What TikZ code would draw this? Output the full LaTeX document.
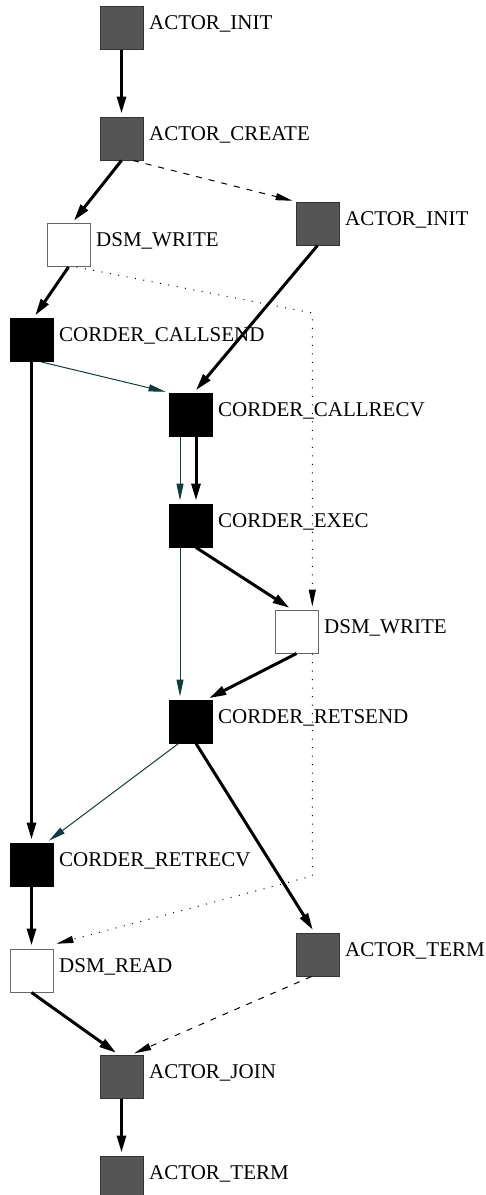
\documentclass[tikz,border=0pt]{standalone}
\usepackage{fontspec}
\setmainfont{Liberation Serif}
\usetikzlibrary{arrows.meta}
\definecolor{actgray}{HTML}{555555}
\definecolor{actborder}{HTML}{333333}
\definecolor{whiteborder}{HTML}{666666}
\definecolor{edgeteal}{HTML}{0F3C3C}
\begin{document}
\begin{tikzpicture}[x=1pt,y=-1pt,
  box/.style={draw, minimum size=43pt, inner sep=0pt, line width=1pt},
  graybox/.style={box, fill=actgray, draw=actborder},
  blackbox/.style={box, fill=black, draw=black},
  whitebox/.style={box, fill=white, draw=whiteborder},
  lbl/.style={anchor=base west, inner sep=0pt, xshift=5.5pt, yshift=-1.5pt,
    font=\fontsize{21}{25}\selectfont},
  thickedge/.style={line width=3pt, -{Triangle[length=17pt,width=9pt]}, shorten >=3pt},
  thinedge/.style={draw=edgeteal, line width=1pt, -{Triangle[length=17pt,width=7pt]}, shorten >=3pt},
  dashedge/.style={line width=1pt, dash pattern=on 6pt off 7pt, -{Triangle[length=17pt,width=7pt]}, shorten >=3pt},
  dotedge/.style={line width=1pt, dash pattern=on 1pt off 7.5pt, -{Triangle[length=17pt,width=7pt]}, shorten >=3pt}
]
\useasboundingbox (0,0) rectangle (486,1195);

% nodes
\node[graybox, label={[lbl]east:ACTOR\_INIT}] (init1) at (121.5,27.5) {};
\node[graybox, label={[lbl]east:ACTOR\_CREATE}] (create) at (121.5,138.5) {};
\node[whitebox, label={[lbl]east:DSM\_WRITE}] (dsmw1) at (68.5,245) {};
\node[graybox, label={[lbl]east:ACTOR\_INIT}] (init2) at (317.5,223.5) {};
\node[blackbox, label={[lbl]east:CORDER\_CALLSEND}] (callsend) at (31.5,340) {};
\node[blackbox, label={[lbl]east:CORDER\_CALLRECV}] (callrecv) at (190.5,414.5) {};
\node[blackbox, label={[lbl]east:CORDER\_EXEC}] (exec) at (190.5,525.5) {};
\node[whitebox, label={[lbl]east:DSM\_WRITE}] (dsmw2) at (296.5,631.5) {};
\node[blackbox, label={[lbl]east:CORDER\_RETSEND}] (retsend) at (190.5,721.5) {};
\node[blackbox, label={[lbl]east:CORDER\_RETRECV}] (retrecv) at (31.5,864.5) {};
\node[whitebox, label={[lbl]east:DSM\_READ}] (dsmread) at (31.5,970.5) {};
\node[graybox, label={[lbl]east:ACTOR\_TERM}] (term2) at (317.5,954.5) {};
\node[graybox, label={[lbl]east:ACTOR\_JOIN}] (join) at (121.5,1076.5) {};
\node[graybox, label={[lbl]east:ACTOR\_TERM}] (term3) at (121.5,1177.5) {};

\coordinate (bendA) at (312.3,313);
\coordinate (bendB) at (312.3,876);

% edges
\draw[thickedge] (init1.south) -- (create.north);
\draw[thickedge] (create.south) -- ([xshift=3.5pt]dsmw1.north);
\draw[dashedge] ([xshift=11.5pt]create.south) -- (init2.north west);
\draw[thickedge] (dsmw1.south) -- ([xshift=2pt]callsend.north);
\draw[thickedge] (init2.south) -- ([xshift=3.5pt]callrecv.north);
\draw[thinedge] ([xshift=10pt]callsend.south) -- (callrecv.north west);
\draw[thickedge] (callsend.south) -- (retrecv.north);
\draw[thinedge] ([xshift=-10.5pt]callrecv.south) -- ([xshift=-10.5pt]exec.north);
\draw[thickedge] ([xshift=5.5pt]callrecv.south) -- ([xshift=5.5pt]exec.north);
\draw[thickedge] ([xshift=5.5pt]exec.south) -- ([xshift=-4.5pt]dsmw2.north);
\draw[thinedge] ([xshift=-10.5pt]exec.south) -- ([xshift=-10.5pt]retsend.north);
\draw[thickedge] (dsmw2.south) -- ([xshift=16pt]retsend.north);
\draw[thinedge] ([xshift=-12pt]retsend.south) -- ([xshift=15pt]retrecv.north);
\draw[thickedge] ([xshift=5.5pt]retsend.south) -- ([xshift=-3pt]term2.north);
\draw[thickedge] (retrecv.south) -- (dsmread.north);
\draw[dotedge] ([xshift=8pt]dsmw1.south) -- (bendA) -- ([xshift=15.8pt]dsmw2.north);
\draw[dotedge] ([xshift=15.8pt]dsmw2.south) -- (bendB) -- ([yshift=4pt]dsmread.north east);
\draw[dashedge] ([xshift=-6pt]term2.south) -- ([xshift=10pt]join.north);
\draw[thickedge] (dsmread.south) -- ([xshift=-3pt]join.north);
\draw[thickedge] (join.south) -- (term3.north);
\end{tikzpicture}
\end{document}
